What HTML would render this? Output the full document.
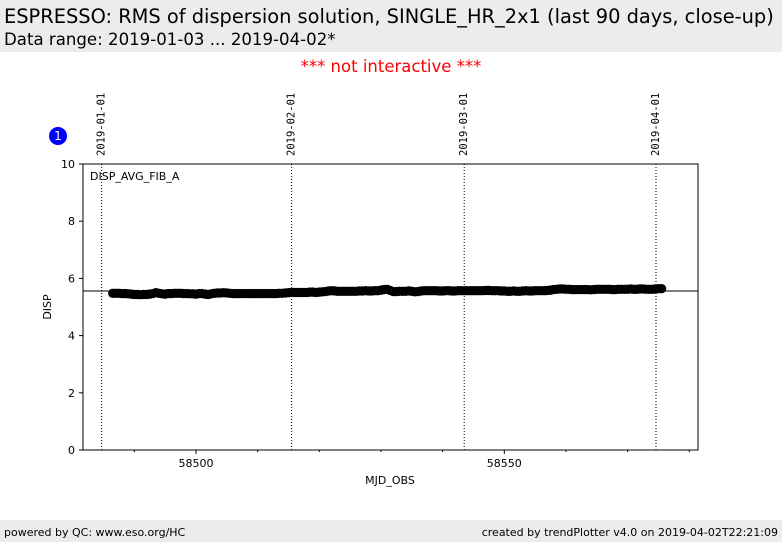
<!DOCTYPE html>
<html><head><meta charset="utf-8">
<style>
body{margin:0;width:782px;height:542px;background:#fff;font-family:"DejaVu Sans","Liberation Sans",sans-serif;overflow:hidden;position:relative}
.hdr{position:absolute;left:0;top:0;width:782px;height:52px;background:#ececec}
.ftr{position:absolute;left:0;top:520px;width:782px;height:22px;background:#ececec;font-size:11px}
</style></head><body>
<div class="hdr">
<div style="position:absolute;left:4px;top:5px;font-size:19.4px;white-space:nowrap">ESPRESSO: RMS of dispersion solution, SINGLE_HR_2x1 (last 90 days, close-up)</div>
<div style="position:absolute;left:4px;top:30px;font-size:16.6px;white-space:nowrap">Data range: 2019-01-03 ... 2019-04-02*</div>
</div>
<div style="position:absolute;left:0;width:782px;top:57px;text-align:center;color:#f00;font-size:16.5px">*** not interactive ***</div>
<svg id="chart" width="782" height="542" style="position:absolute;left:0;top:0"></svg>
<div class="ftr">
<span style="position:absolute;left:4px;top:6px">powered by QC: www.eso.org/HC</span>
<span style="position:absolute;right:4px;top:6px">created by trendPlotter v4.0 on 2019-04-02T22:21:09</span>
</div>
<script>
const xTicks=[58500,58550];
const xMinor=[58490,58510,58520,58530,58540,58560,58570,58580];
const yTicks=[0,2,4,6,8,10];
const dateMjd=[58484.7,58515.5,58543.5,58574.6];
const dateLabels=["2019-01-01","2019-02-01","2019-03-01","2019-04-01"];
const meanValue=5.56;
const xStart=58486.5, xStep=0.5;
const dispValues=[
5.48,5.48,5.48,5.47,5.47,5.46,5.45,5.44,5.44,5.43,5.44,5.44,5.45,5.47,5.50,5.48,5.46,5.45,5.47,5.47,
5.48,5.48,5.48,5.47,5.47,5.46,5.46,5.45,5.47,5.47,5.45,5.44,5.46,5.48,5.49,5.49,5.50,5.49,5.48,5.47,
5.47,5.47,5.47,5.47,5.47,5.47,5.47,5.47,5.47,5.47,5.47,5.47,5.47,5.47,5.48,5.48,5.49,5.50,5.51,5.51,
5.51,5.51,5.51,5.51,5.52,5.52,5.51,5.52,5.53,5.54,5.56,5.57,5.56,5.55,5.55,5.55,5.55,5.55,5.55,5.55,
5.56,5.56,5.57,5.56,5.56,5.57,5.57,5.59,5.61,5.62,5.58,5.54,5.54,5.55,5.55,5.55,5.56,5.55,5.53,5.54,
5.56,5.57,5.57,5.57,5.57,5.57,5.56,5.56,5.57,5.57,5.56,5.56,5.57,5.57,5.57,5.57,5.57,5.57,5.57,5.57,
5.57,5.58,5.58,5.57,5.57,5.57,5.56,5.56,5.55,5.55,5.56,5.55,5.55,5.56,5.57,5.56,5.56,5.57,5.57,5.57,
5.57,5.58,5.59,5.61,5.62,5.63,5.63,5.62,5.62,5.61,5.61,5.61,5.61,5.61,5.61,5.60,5.61,5.62,5.62,5.62,
5.62,5.62,5.61,5.61,5.62,5.62,5.62,5.62,5.63,5.62,5.62,5.63,5.63,5.62,5.62,5.62,5.63,5.64,5.64];
const L=83,R=698,T=164,B=450;
const X=v=>196+(v-58500)*6.166;
const Y=v=>B-(v/10)*(B-T);
const svg=document.getElementById('chart');
const NS='http://www.w3.org/2000/svg';
function mk(t,a){const e=document.createElementNS(NS,t);for(const k in a)e.setAttribute(k,a[k]);svg.appendChild(e);return e;}
let e;
e=mk('rect',{x:L,y:T,width:R-L,height:B-T,fill:'none',stroke:'#000','stroke-width':1});


dateMjd.forEach((m,i)=>{
 const x=X(m);
 e=mk('line',{x1:x,x2:x,y1:T,y2:B,stroke:'#000','stroke-width':1,'stroke-dasharray':'1,2'});
 
 
 e=mk('text',{x:0,y:0,transform:`translate(${x+3},156) rotate(-90)`,'font-family':'DejaVu Sans Mono, Liberation Mono, monospace','font-size':10.5});
 e.textContent=dateLabels[i];
 
 
});
yTicks.forEach(v=>{
 const y=Y(v);
 e=mk('line',{x1:L-4,x2:L,y1:y,y2:y,stroke:'#000'});
 
 
 e=mk('text',{x:L-8,y:y+4,'text-anchor':'end','font-size':11});
 e.textContent=v;
 
 
});
xTicks.forEach(v=>{
 const x=X(v);
 e=mk('line',{x1:x,x2:x,y1:B,y2:B+4,stroke:'#000'});
 
 
 e=mk('text',{x:x,y:B+17,'text-anchor':'middle','font-size':11});
 e.textContent=v;
 
 
});
xMinor.forEach(v=>{
 const x=X(v);
 e=mk('line',{x1:x,x2:x,y1:B,y2:B+2,stroke:'#000'});
 
 
});
e=mk('line',{x1:L,x2:R,y1:Y(meanValue),y2:Y(meanValue),stroke:'#000','stroke-width':1});


dispValues.forEach((v,i)=>{
 e=mk('circle',{cx:X(xStart+i*xStep),cy:Y(v),r:4.7,fill:'#000'});
 
 
});
e=mk('text',{x:90,y:180,'font-size':11});
e.textContent='DISP_AVG_FIB_A';


e=mk('text',{x:0,y:0,transform:'translate(51,307) rotate(-90)','text-anchor':'middle','font-size':11});
e.textContent='DISP';


e=mk('text',{x:390,y:484,'text-anchor':'middle','font-size':11});
e.textContent='MJD_OBS';


e=mk('circle',{cx:58,cy:136,r:9,fill:'#00f'});


e=mk('text',{x:58,y:140,'text-anchor':'middle','font-size':12,fill:'#fff'});
e.textContent='1';


</script>
</body></html>
